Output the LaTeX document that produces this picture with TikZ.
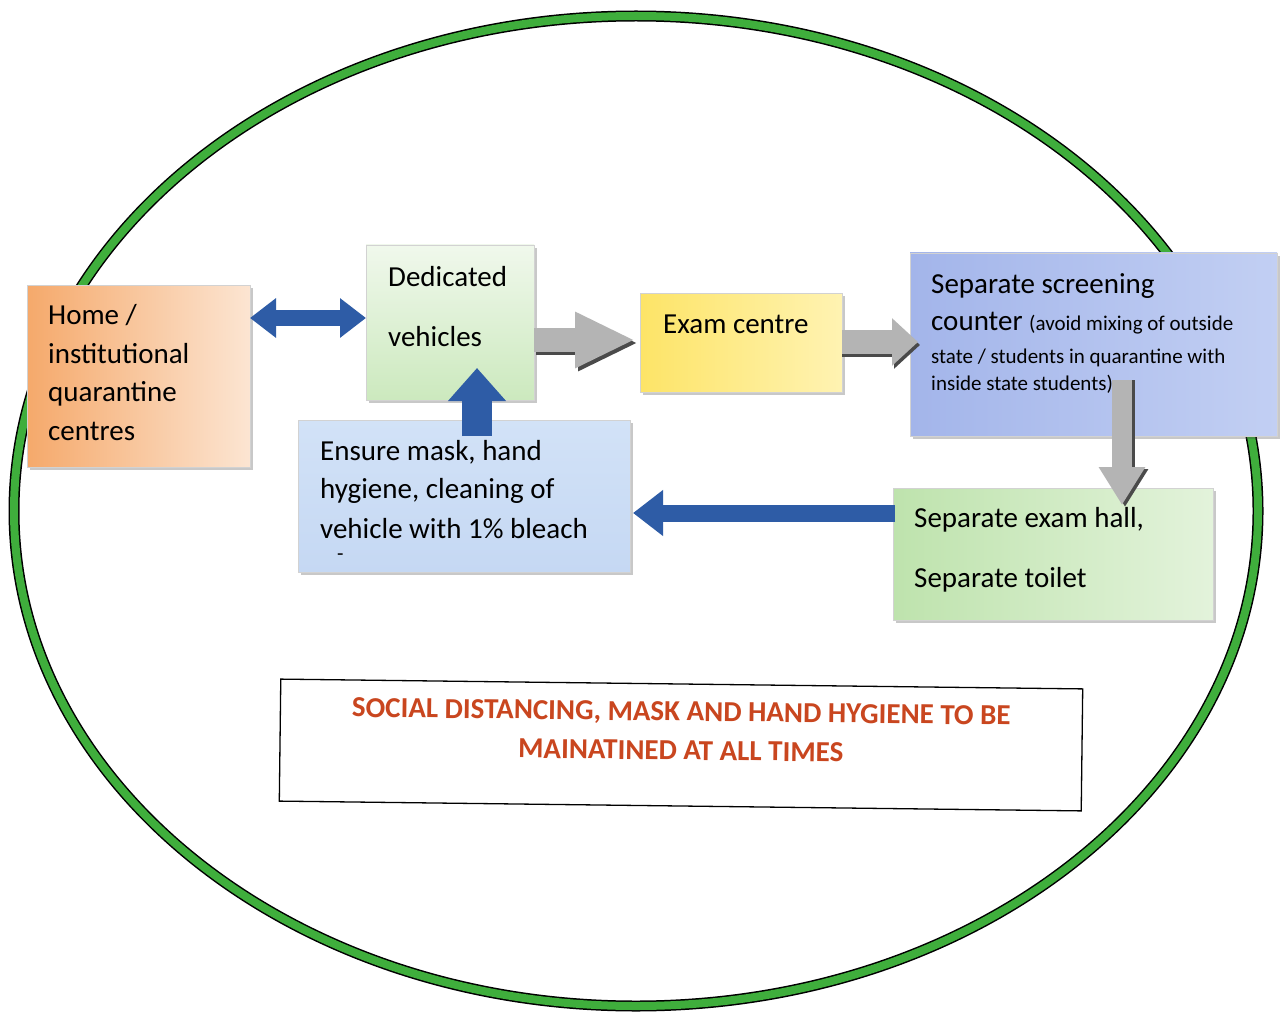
\documentclass[tikz,border=0pt]{standalone}
\usepackage{fontspec}
\setmainfont{Carlito}
\usetikzlibrary{arrows.meta,shadows,calc}
\definecolor{ringgreen}{HTML}{3FAE3C}
\definecolor{arrblue}{HTML}{2E5CA6}
\definecolor{arrgray}{HTML}{B4B4B4}
\definecolor{arrshadow}{HTML}{4A4A4A}
\definecolor{warnred}{HTML}{C9461F}
\definecolor{homeL}{HTML}{F5A96B}
\definecolor{homeR}{HTML}{FCE5D2}
\definecolor{dedT}{HTML}{F0F8EC}
\definecolor{dedB}{HTML}{CCE9BE}
\definecolor{examL}{HTML}{FDE467}
\definecolor{examR}{HTML}{FFF3B2}
\definecolor{scrL}{HTML}{A3B5EA}
\definecolor{scrR}{HTML}{C2CFF3}
\definecolor{ensT}{HTML}{D2E2F7}
\definecolor{ensM}{HTML}{EEF4FC}
\definecolor{ensB}{HTML}{C5D8F3}
\definecolor{hallL}{HTML}{BEE3AD}
\definecolor{hallR}{HTML}{E3F3DB}
\tikzset{
  box/.style={draw=gray!35, line width=0.8pt, anchor=north west, inner sep=0pt, outer sep=0pt,
    drop shadow={shadow xshift=3pt, shadow yshift=-3pt, opacity=0.3, fill=black!70}},
  big/.style={anchor=base west, inner sep=0pt, font=\fontsize{29}{35}\selectfont},
  small/.style={anchor=base west, inner sep=0pt, font=\fontsize{21}{25}\selectfont},
  bluearr/.style={draw=arrblue, line width=#1},
  grayarr/.style={draw=arrgray, line width=#1},
  grayshad/.style={draw=arrshadow, line width=#1},
}
\begin{document}
\begin{tikzpicture}[x=1pt,y=-1pt]
\useasboundingbox (0,0) rectangle (1284,1016);
\fill[white] (0,0) rectangle (1284,1016);
% ring
\draw[black, line width=11pt] (636,511) ellipse [x radius=622, y radius=495];
\draw[ringgreen, line width=8pt] (636,511) ellipse [x radius=622, y radius=495];

% boxes
\node[box, minimum width=223pt, minimum height=182pt, left color=homeL, right color=homeR] (home) at (27,285) {};
\node[box, minimum width=168pt, minimum height=155pt, top color=dedT, bottom color=dedB] (ded) at (366,245) {};
\node[box, minimum width=202pt, minimum height=99pt, left color=examL, right color=examR] (exam) at (640,293) {};
\node[box, minimum width=367pt, minimum height=183pt, left color=scrL, right color=scrR] (scr) at (910,253) {};
\node[box, minimum width=332pt, minimum height=152pt, top color=ensT, middle color=ensM, bottom color=ensB] (ens) at (298,420) {};
\node[box, minimum width=320pt, minimum height=132pt, left color=hallL, right color=hallR] (hall) at (893,488) {};
\node[draw=black, line width=1.3pt, minimum width=802pt, minimum height=122pt, inner sep=0pt, rotate=-0.7] (note) at (681,745) {};

% arrows
\draw[bluearr=16pt, {Triangle[length=26pt,width=38pt]}-{Triangle[length=26pt,width=38pt]}]
  ($(home.north east)+(0,33)$) -- ($(ded.north west)+(0,73)$);
\draw[grayshad=24pt, -{Triangle[length=60pt,width=52pt]}]
  ($(ded.north east)+(2,98)$) -- ($(exam.north west)+(-2,50)$);
\draw[grayarr=24pt, -{Triangle[length=60pt,width=52pt]}]
  ($(ded.north east)+(0,95)$) -- ($(exam.north west)+(-5,47)$);
\draw[grayshad=24pt, -{Triangle[length=26pt,width=46pt]}]
  ($(exam.north east)+(0,52)$) -- ($(scr.north west)+(10,92)$);
\draw[grayarr=24pt, -{Triangle[length=26pt,width=46pt]}]
  ($(exam.north east)+(0,49)$) -- ($(scr.north west)+(8,89)$);
\draw[grayshad=20pt, -{Triangle[length=38pt,width=44pt]}]
  ($(scr.south west)+(215,-56)$) -- ($(hall.north west)+(232,19)$);
\draw[grayarr=20pt, -{Triangle[length=38pt,width=44pt]}]
  ($(scr.south west)+(212,-56)$) -- ($(hall.north west)+(229,17)$);
\draw[bluearr=17pt, -{Triangle[length=30pt,width=44pt]}]
  ($(hall.north west)+(2,25)$) -- ($(ens.north east)+(3,93)$);
\draw[bluearr=30pt, -{Triangle[length=33pt,width=56pt]}]
  ($(ens.north west)+(179,16)$) -- ($(ded.south west)+(111,-32)$);

% texts
\node[big] (h1) at (48,324) {Home /};
\node[big] (h2) at (48,363) {institutional};
\node[big] (h3) at (48,401) {quarantine};
\node[big] (h4) at (48,440) {centres};
\node[big] (d1) at (388,286) {Dedicated};
\node[big] (d2) at (388,346) {vehicles};
\node[big] (e1) at (663,333) {Exam centre};
\node[big] (s1) at (931,293) {Separate screening};
\node[big] (s2) at (931,330) {counter \fontsize{21}{25}\selectfont(avoid mixing of outside};
\node[small] (s3) at (931,363) {state / students in quarantine with};
\node[small] (s4) at (931,390) {inside state students)};
\node[big] (n1) at (320,460) {Ensure mask, hand};
\node[big] (n2) at (320,498) {hygiene, cleaning of};
\node[big] (n3) at (320,538) {vehicle with 1\% bleach};
\node[small] (n4) at (337,560) {-};
\node[big] (x1) at (914,527) {Separate exam hall,};
\node[big] (x2) at (914,587) {Separate toilet};
\node[rotate=-0.7, align=center, inner sep=0pt, text=warnred, font=\bfseries\fontsize{29}{39}\selectfont] (nt) at (681,731)
  {SOCIAL DISTANCING, MASK AND HAND HYGIENE TO BE\\MAINATINED AT ALL TIMES};
\end{tikzpicture}
\end{document}
